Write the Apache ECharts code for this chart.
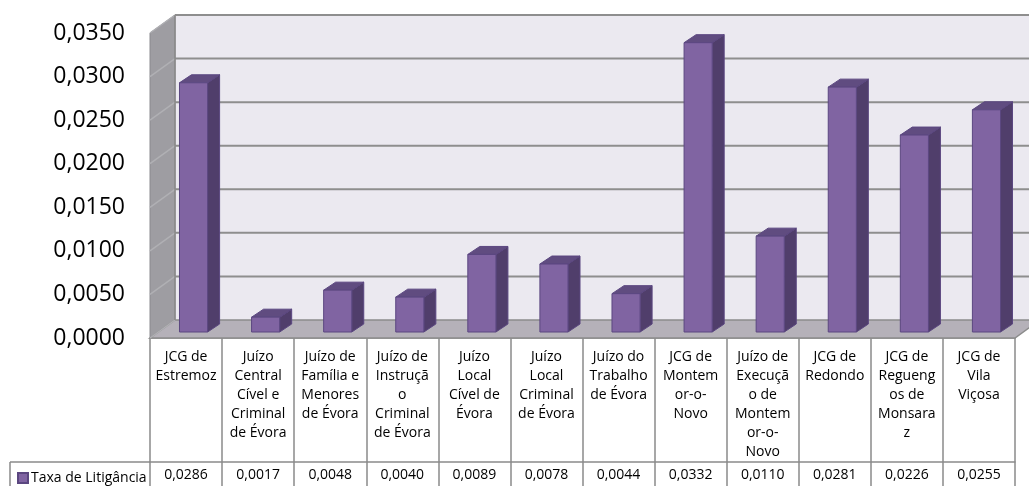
<!DOCTYPE html>
<html>
<head>
<meta charset="utf-8">
<script src="https://cdn.jsdelivr.net/npm/echarts@6/dist/echarts.min.js"></script>
<style>
html,body{margin:0;padding:0;background:#fff;}
#chart{width:1029px;height:486px;}
</style>
</head>
<body>
<div id="chart"></div>
<script>
const categories = [
  "JCG de\nEstremoz",
  "Juízo\nCentral\nCível e\nCriminal\nde Évora",
  "Juízo de\nFamília e\nMenores\nde Évora",
  "Juízo de\nInstruçã\no\nCriminal\nde Évora",
  "Juízo\nLocal\nCível de\nÉvora",
  "Juízo\nLocal\nCriminal\nde Évora",
  "Juízo do\nTrabalho\nde Évora",
  "JCG de\nMontem\nor-o-\nNovo",
  "Juízo de\nExecuçã\no de\nMontem\nor-o-\nNovo",
  "JCG de\nRedondo",
  "JCG de\nRegueng\nos de\nMonsara\nz",
  "JCG de\nVila\nViçosa"
];
const seriesName = "Taxa de Litigância";
const taxaValues = [0.0286, 0.0017, 0.0048, 0.0040, 0.0089, 0.0078, 0.0044, 0.0332, 0.0110, 0.0281, 0.0226, 0.0255];
const yTicks = [0, 0.005, 0.010, 0.015, 0.020, 0.025, 0.030, 0.035];

const FONT = "Open Sans";
const DEPTH_X = 25, DEPTH_Y = 18;
const fmt = v => Number(v).toFixed(4).replace('.', ',');

const chart = echarts.init(document.getElementById('chart'));

function renderWalls(params, api) {
  const cs = params.coordSys;
  const x = cs.x, y = cs.y, w = cs.width, h = cs.height;
  const children = [];
  children.push({type:'rect', shape:{x:x+DEPTH_X, y:y-DEPTH_Y, width:w, height:h},
    style:{fill:'#EBE9F0', stroke:null}});
  children.push({type:'polygon', shape:{points:[[x,y],[x+DEPTH_X,y-DEPTH_Y],[x+DEPTH_X,y+h-DEPTH_Y],[x,y+h]]},
    style:{fill:'#9E9DA2', stroke:'#8A8A8E', lineWidth:1}});
  children.push({type:'polygon', shape:{points:[[x,y+h],[x+DEPTH_X,y+h-DEPTH_Y],[x+w+DEPTH_X,y+h-DEPTH_Y],[x+w,y+h]]},
    style:{fill:'#B5B1B9', stroke:'#8C8C8C', lineWidth:1.5}});
  yTicks.forEach(t => {
    const py = api.coord([0, t])[1];
    if (t > 0) {
      children.push({type:'line', shape:{x1:x+DEPTH_X, y1:py-DEPTH_Y, x2:x+w+DEPTH_X, y2:py-DEPTH_Y},
        style:{stroke:'#8E8E8E', lineWidth:2}});
    }
    children.push({type:'line', shape:{x1:x, y1:py, x2:x+DEPTH_X, y2:py-DEPTH_Y},
      style:{stroke:'#B0B0B4', lineWidth:1.5}});
  });
  children.push({type:'line', shape:{x1:x+DEPTH_X, y1:y-DEPTH_Y, x2:x+DEPTH_X, y2:y+h-DEPTH_Y},
    style:{stroke:'#8A8A8A', lineWidth:1.5}});
  return {type:'group', children};
}

function renderBar(params, api) {
  const idx = api.value(0);
  const val = api.value(1);
  const top = api.coord([idx, val]);
  const base = api.coord([idx, 0]);
  const bw = api.size([1, 0])[0];
  const barW = bw * 0.39;
  const fx = 7.5, fy = -6;
  const dx = 12, dy = -8;
  const xl = top[0] + fx - barW / 2;
  const xr = xl + barW;
  const yt = top[1] + fy;
  const yb = base[1] + fy;
  const stroke = '#5B4780';
  return {
    type:'group',
    children:[
      {type:'polygon', shape:{points:[[xr,yt],[xr+dx,yt+dy],[xr+dx,yb+dy],[xr,yb]]},
        style:{fill:'#503E6B', stroke:stroke, lineWidth:1}},
      {type:'polygon', shape:{points:[[xl,yt],[xr,yt],[xr+dx,yt+dy],[xl+dx,yt+dy]]},
        style:{fill:'#604C80', stroke:stroke, lineWidth:1}},
      {type:'rect', shape:{x:xl, y:yt, width:barW, height:yb-yt},
        style:{fill:'#8064A2', stroke:stroke, lineWidth:1}}
    ]
  };
}

const option = {
  animation:false,
  backgroundColor:'#ffffff',
  grid:{left:150, right:14, top:33, bottom:148, containLabel:false},
  legend:{
    data:[{name:seriesName, icon:'rect'}],
    left:12, top:466, itemWidth:10, itemHeight:10, itemGap:4,
    textStyle:{fontFamily:FONT, fontSize:14, color:'#000', padding:[0,0,0,-2]},
    selectedMode:false
  },
  xAxis:[
    {type:'category', data:categories, position:'bottom',
      axisLine:{show:true, lineStyle:{color:'#8A8A8A', width:1.5}},
      axisTick:{show:true, interval:0, length:148, lineStyle:{color:'#8A8A8A', width:1.5}},
      axisLabel:{interval:0, margin:10, fontFamily:FONT, fontSize:14, lineHeight:19, color:'#000', align:'center'},
      splitLine:{show:false}
    },
    {type:'category', data:taxaValues.map(fmt), position:'bottom', offset:124,
      axisLine:{show:true, lineStyle:{color:'#8A8A8A', width:1.5}},
      axisTick:{show:false},
      axisLabel:{interval:0, margin:4, fontFamily:FONT, fontSize:14, lineHeight:19, color:'#000'},
      splitLine:{show:false}
    }
  ],
  yAxis:{type:'value', min:0, max:0.035, interval:0.005,
    axisLine:{show:false}, axisTick:{show:false}, splitLine:{show:false},
    axisLabel:{formatter:fmt, margin:25, fontFamily:FONT, fontSize:23, color:'#000'}
  },
  graphic:[
    {type:'line', shape:{x1:10, y1:462, x2:150, y2:462}, style:{stroke:'#8A8A8A', lineWidth:1.5}, z:10},
    {type:'line', shape:{x1:10, y1:462, x2:10, y2:486}, style:{stroke:'#8A8A8A', lineWidth:1.5}, z:10}
  ],
  series:[
    {type:'custom', name:'walls', renderItem:renderWalls, data:[[0,0]], z:1, silent:true,
      encode:{x:0, y:1}},
    {type:'custom', name:seriesName, renderItem:renderBar, z:3,
      itemStyle:{color:'#8064A2', borderColor:'#5B4780', borderWidth:1},
      data:taxaValues.map((v,i)=>[i, v]), encode:{x:0, y:1}}
  ]
};
chart.setOption(option);
</script>
</body>
</html>
